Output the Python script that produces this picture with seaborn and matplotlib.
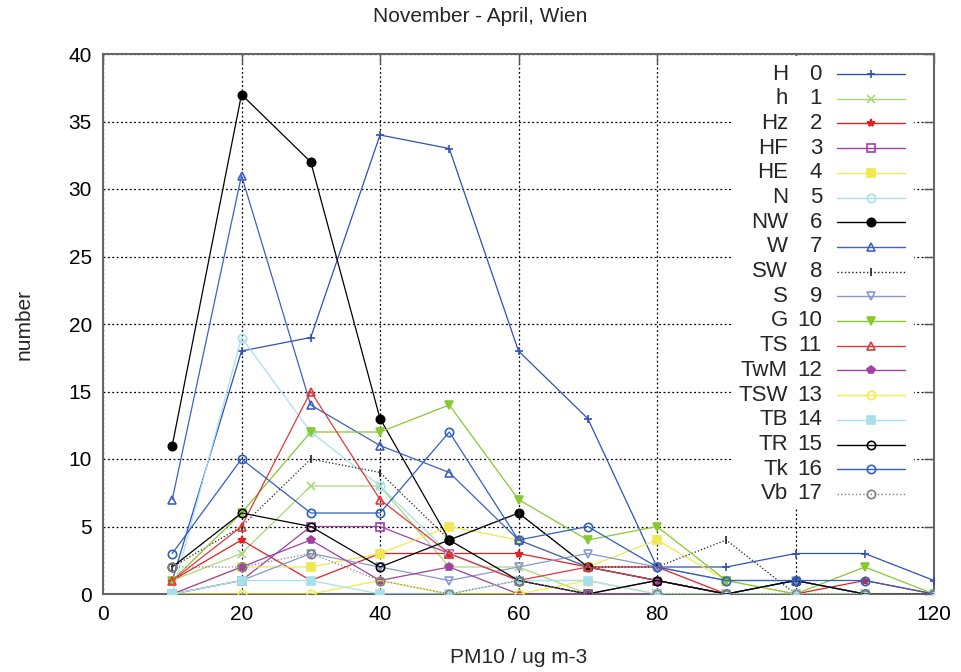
import matplotlib
matplotlib.use("Agg")
import matplotlib.pyplot as plt
import seaborn as sns
import numpy as np
from matplotlib.lines import Line2D
from matplotlib.patches import Rectangle

# ---------------- data ----------------
pm10 = [10, 20, 30, 40, 50, 60, 70, 80, 90, 100, 110, 120]
names = ["H", "h", "Hz", "HF", "HE", "N", "NW", "W", "SW", "S",
         "G", "TS", "TwM", "TSW", "TB", "TR", "Tk", "Vb"]

H   = [1, 18, 19, 34, 33, 18, 13, 2, 2, 3, 3, 1]
h   = [1, 3, 8, 8, 2, 2, 0, 1, 0, 0, 0, 0]
Hz  = [1, 4, 1, 3, 3, 3, 2, 2, 0, 0, 1, 0]
HF  = [0, 1, 5, 5, 3, 1, 0, 0, 0, 0, 0, 0]
HE  = [0, 2, 2, 3, 5, 4, 2, 4, 1, 0, 0, 0]
N   = [0, 19, 12, 8, 3, 1, 1, 0, 0, 0, 0, 0]
NW  = [11, 37, 32, 13, 4, 6, 2, 1, 0, 1, 0, 0]
W   = [7, 31, 14, 11, 9, 4, 2, 1, 0, 1, 0, 0]
SW  = [2, 5, 10, 9, 4, 6, 2, 2, 4, 0, 0, 0]
S   = [0, 1, 3, 2, 1, 2, 3, 2, 1, 1, 0, 0]
G   = [1, 6, 12, 12, 14, 7, 4, 5, 1, 0, 2, 0]
TS  = [1, 5, 15, 7, 3, 1, 2, 1, 0, 0, 0, 0]
TwM = [0, 2, 4, 1, 2, 0, 0, 1, 0, 0, 0, 0]
TSW = [0, 0, 0, 1, 0, 0, 1, 0, 0, 0, 0, 0]
TB  = [0, 1, 1, 0, 0, 1, 1, 0, 0, 0, 0, 0]
TR  = [2, 6, 5, 2, 4, 1, 0, 1, 0, 1, 0, 0]
Tk  = [3, 10, 6, 6, 12, 4, 5, 2, 1, 1, 1, 0]
Vb  = [2, 2, 3, 1, 0, 1, 0, 0, 0, 0, 0, 0]

series = [H, h, Hz, HF, HE, N, NW, W, SW, S, G, TS, TwM, TSW, TB, TR, Tk, Vb]

xticks = [0, 20, 40, 60, 80, 100, 120]
yticks = [0, 5, 10, 15, 20, 25, 30, 35, 40]

# ---------------- style ----------------
colors = ["#3050b8", "#a8d878", "#e02020", "#a040a8", "#f0e850", "#a8e0ee",
          "#000000", "#4060c0", "#202020", "#8898d0", "#88c830", "#e03838",
          "#a040a0", "#f0f040", "#a8e0ea", "#000000", "#3060c0", "#808080"]
markers = ["+", "x", "*", "s", "s", "o", "o", "^", "|", "v",
           "v", "^", "p", "o", "s", "o", "o", "o"]
filled = [True, True, True, False, True, False, True, False, True, False,
          True, False, True, False, True, False, False, False]
lstyles = ["-"] * 18
lstyles[8] = ":"
lstyles[17] = ":"

sns.set_theme(style="white")
plt.rcParams["font.family"] = ["Liberation Sans", "DejaVu Sans"]

fig = plt.figure(figsize=(9.61, 6.72), dpi=100)
ax = fig.add_axes([103 / 961, 1 - 594 / 672, 831 / 961, 540 / 672])

for vals, c, m, f, ls in zip(series, colors, markers, filled, lstyles):
    sns.lineplot(x=pm10, y=vals, ax=ax, color=c, linestyle=ls, linewidth=0.9,
                 marker=m, markersize=6,
                 markerfacecolor=(c if f else "none"), markeredgecolor=c,
                 markeredgewidth=1.2, legend=False, zorder=3)

ax.set_xlim(0, 120)
ax.set_ylim(0, 40)
ax.set_xticks(xticks)
ax.set_yticks(yticks)
ax.tick_params(axis="both", direction="in", length=7, width=1, colors="#555555",
               labelcolor="black", labelsize=15, top=True, right=True, pad=8)
ax.grid(True, color="black", linestyle=(0, (1.5, 2)), linewidth=0.9)
for sp in ax.spines.values():
    sp.set_color("#666666")
    sp.set_linewidth(1.5)
    sp.set_visible(True)

ax.set_xlabel("PM10 / ug m-3", fontsize=15, labelpad=17)
ax.set_ylabel("number", fontsize=15, labelpad=25)
fig.text(480 / 961, 1 - 16 / 672, "November - April, Wien", ha="center",
         va="center", fontsize=15)

# ---------------- legend (manual, gnuplot style) ----------------
def fx(px):
    return (px - 103) / 831

def fy(py):
    return (594 - py) / 540

ax.add_patch(Rectangle((fx(733), fy(508)), fx(914) - fx(733), fy(56) - fy(508),
                       transform=ax.transAxes, facecolor="white",
                       edgecolor="none", zorder=4))
for i, name in enumerate(names):
    yy = fy(74 + i * 24.7)
    ax.text(fx(788), yy, name, transform=ax.transAxes, ha="right",
            va="center", fontsize=16, zorder=5)
    ax.text(fx(822), yy, str(i), transform=ax.transAxes, ha="right",
            va="center", fontsize=16, zorder=5)
    c = colors[i]
    ln = Line2D([fx(837), fx(905)], [yy, yy], transform=ax.transAxes,
                color=c, linestyle=lstyles[i], linewidth=1.0, zorder=5)
    ax.add_line(ln)
    mk = Line2D([fx(871)], [yy], transform=ax.transAxes, marker=markers[i],
                markersize=6, color=c,
                markerfacecolor=(c if filled[i] else "none"),
                markeredgecolor=c, markeredgewidth=1.2, linestyle="none",
                zorder=6)
    ax.add_line(mk)

fig.savefig("out.png", dpi=100)
